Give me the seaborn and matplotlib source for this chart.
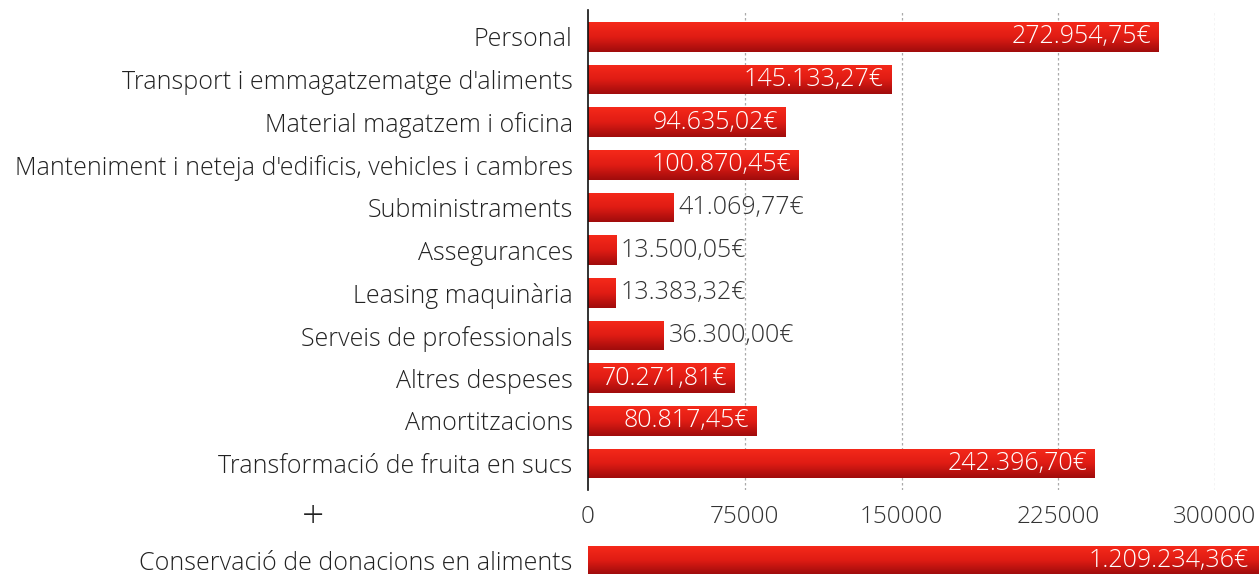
import numpy as np
import pandas as pd
import matplotlib
matplotlib.use("Agg")
import matplotlib.pyplot as plt
import seaborn as sns
from matplotlib.colors import LinearSegmentedColormap

categories = [
    "Personal",
    "Transport i emmagatzematge d'aliments",
    "Material magatzem i oficina",
    "Manteniment i neteja d'edificis, vehicles i cambres",
    "Subministraments",
    "Assegurances",
    "Leasing maquinària",
    "Serveis de professionals",
    "Altres despeses",
    "Amortitzacions",
    "Transformació de fruita en sucs",
]
values = [272954.75, 145133.27, 94635.02, 100870.45, 41069.77, 13500.05,
          13383.32, 36300.00, 70271.81, 80817.45, 242396.70]
extra_category = ["Conservació de donacions en aliments"]
extra_values = [1209234.36]
xticks = [0, 75000, 150000, 225000, 300000]


def fmt(v):
    s = f"{v:,.2f}"
    s = s.replace(",", "X").replace(".", ",").replace("X", ".")
    return s + "€"


sns.set_theme(style="white")
plt.rcParams["font.family"] = ["Open Sans", "DejaVu Sans"]
FS = 18
TFS = 17.5
FW = "light"

W, H = 1259, 574
fig = plt.figure(figsize=(W / 100, H / 100), dpi=100)

x0, x300 = 588, 1215
ytop, ybot = 10, 490
ax = fig.add_axes([x0 / W, 1 - ybot / H, (x300 - x0) / W, (ybot - ytop) / H])

df = pd.DataFrame({"cat": categories, "val": values})
sns.barplot(data=df, x="val", y="cat", ax=ax, color="#d01a14", width=0.7,
            saturation=1, orient="h")

cmap = LinearSegmentedColormap.from_list("redgrad", ["#f5291a", "#e01c14", "#a00c0c"])
grad = np.linspace(0, 1, 64).reshape(-1, 1)


def gradient_bars(axis):
    for p in list(axis.patches):
        x, y = p.get_x(), p.get_y()
        w, h = p.get_width(), p.get_height()
        im = axis.imshow(grad, cmap=cmap, aspect="auto",
                         extent=(x, x + w, y + h, y), origin="upper", zorder=2)
        im.set_clip_path(p)
        p.set_facecolor("none")
        p.set_edgecolor("none")


ax.set_xlim(0, 300000)
ax.set_ylim(10.62, -0.63)
gradient_bars(ax)
ax.set_xlim(0, 300000)
ax.set_ylim(10.62, -0.63)

ax.set_xticks(xticks)
ax.set_xticklabels([str(t) for t in xticks])
ax.set_xlabel("")
ax.set_ylabel("")
ax.tick_params(axis="x", length=0, pad=11, labelsize=TFS, colors="#333333")
ax.tick_params(axis="y", length=0, pad=11, labelsize=FS, colors="#222222")
for lab in ax.get_xticklabels() + ax.get_yticklabels():
    lab.set_fontweight(FW)
for s in ["top", "right", "bottom"]:
    ax.spines[s].set_visible(False)
ax.spines["left"].set_color("#111111")
ax.spines["left"].set_linewidth(1.2)
ax.spines["left"].set_zorder(5)
for t in xticks[1:]:
    ax.axvline(t, color="#aaaaaa", linestyle=(0, (2, 2)), linewidth=0.9, zorder=0)

for i, v in enumerate(values):
    if v > 60000:
        ax.text(v - 3500, i, fmt(v), ha="right", va="center", color="white",
                fontsize=FS, fontweight=FW, zorder=4)
    else:
        ax.text(v + 2200, i, fmt(v), ha="left", va="center", color="#333333",
                fontsize=FS, fontweight=FW, zorder=4)

# plus sign
fig.text(313 / W, 1 - 518 / H, "+", ha="center", va="center", fontsize=28,
         color="#222222", fontweight=FW)

# extra bar
ax2 = fig.add_axes([x0 / W, 0, (W - x0) / W, 28 / H])
df2 = pd.DataFrame({"cat": extra_category, "val": extra_values})
sns.barplot(data=df2, x="val", y="cat", ax=ax2, color="#d01a14", width=1.0,
            saturation=1, orient="h")
ax2.set_xlim(0, extra_values[0])
ax2.set_ylim(0.5, -0.5)
gradient_bars(ax2)
ax2.set_xlim(0, extra_values[0])
ax2.set_ylim(0.5, -0.5)
ax2.set_xticks([])
ax2.set_xlabel("")
ax2.set_ylabel("")
ax2.tick_params(axis="y", length=0, pad=11, labelsize=FS, colors="#222222")
for lab in ax2.get_yticklabels():
    lab.set_fontweight(FW)
for s in ax2.spines.values():
    s.set_visible(False)
ax2.text(extra_values[0] * 0.985, 0.0, fmt(extra_values[0]), ha="right", va="center",
         color="white", fontsize=FS, fontweight=FW, zorder=4)

fig.savefig("out.png", dpi=100)
